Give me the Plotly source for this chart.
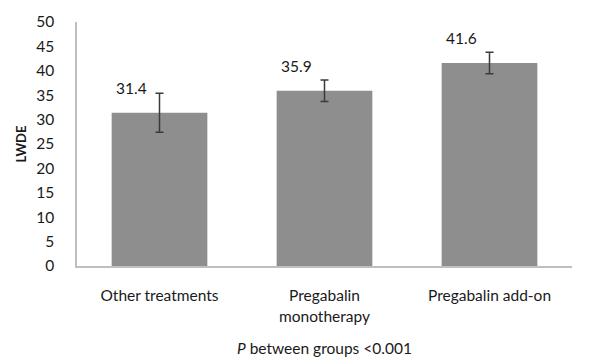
import plotly.graph_objects as go

categories = ["Other treatments", "Pregabalin<br>monotherapy", "Pregabalin add-on"]
values = [31.4, 35.9, 41.6]
errors = [4.0, 2.2, 2.2]
value_labels = ["31.4", "35.9", "41.6"]
y_ticks = [0, 5, 10, 15, 20, 25, 30, 35, 40, 45, 50]

FONT = "Lato, Open Sans, sans-serif"
FS = 15.5

fig = go.Figure()
fig.add_trace(go.Bar(
    x=categories, y=values,
    marker=dict(color="#8e8e8e", line=dict(width=0)),
    error_y=dict(type="data", array=errors, visible=True,
                 color="#3a3a3a", thickness=1.5, width=4),
    width=0.58,
))

for c, v, t in zip(categories, values, value_labels):
    fig.add_annotation(x=c, y=v, text=t, showarrow=False,
                       xshift=-28, yshift=25,
                       font=dict(family=FONT, size=FS, color="#1a1a1a"))

fig.add_annotation(xref="paper", yref="paper", x=0.5, y=0, yshift=-93,
                   text="<i>P</i> between groups &lt;0.001", showarrow=False,
                   font=dict(family=FONT, size=FS, color="#1a1a1a"))

fig.update_layout(
    width=597, height=359,
    margin=dict(l=69, r=33, t=14, b=101),
    paper_bgcolor="white", plot_bgcolor="white",
    showlegend=False,
    font=dict(family=FONT, size=FS, color="#1a1a1a"),
    xaxis=dict(showline=True, linecolor="#bfbfbf", linewidth=1.5,
               ticks="", tickfont=dict(size=FS), automargin=False,
               ticklabelstandoff=15),
    yaxis=dict(range=[0, 50], tickvals=y_ticks, showgrid=False,
               showline=True, linecolor="#bfbfbf", linewidth=1.5,
               ticks="", ticklabelstandoff=18, zeroline=False, automargin=False,
               tickfont=dict(size=FS),
               title=dict(text="<b>LWDE</b>", font=dict(size=13), standoff=7)),
)

fig.write_html("out.html")
